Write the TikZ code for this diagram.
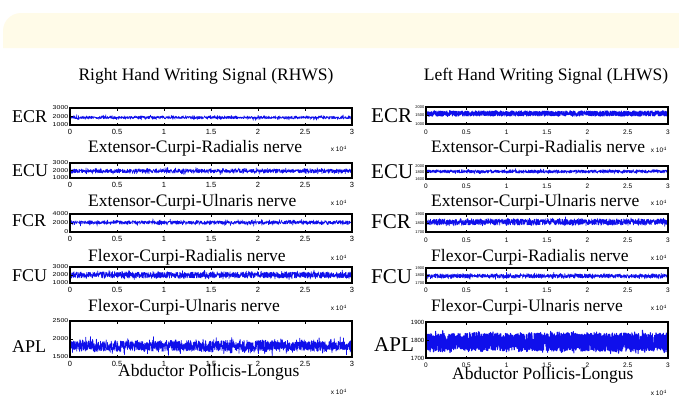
\documentclass[tikz,border=0pt]{standalone}
\usepackage{fontspec}
\setmainfont{Liberation Serif}
\setsansfont{Liberation Sans}
\definecolor{sigblue}{RGB}{15,15,235}
\definecolor{banner}{RGB}{255,251,232}
\newcommand\xaxis[7]{% #1 prefix #2 x0 #3 x1 #4 ytop #5 ybot #6 tick-label style #7 label offset
  \draw[axbox] (#2,#4) rectangle (#3,#5);
  \foreach \k/\lab in {0/0,1/0.5,2/1,3/1.5,4/2,5/2.5,6/3}{%
    \pgfmathsetmacro\xx{#2+(#3-#2)*\k/6}%
    \ifnum\k>0 \ifnum\k<6 \draw[tk] (\xx,#4) -- ++(0,2.5); \draw[tk] (\xx,#5) -- ++(0,-2.5);\fi\fi
    \node[#6] (#1x\k) at (\xx,#5+#7) {\lab};
  }}
\newcommand\ylabs[9]{% #1 prefix #2 x0 #3 ytop #4 ymid #5 ybot #6 #7 #8 labels #9 style
  \draw[tk] (#2,#4) -- ++(2.5,0);
  \node[#9,anchor=east] (#1yt) at (#2-1.5,#3) {#6};
  \node[#9,anchor=east] (#1ym) at (#2-1.5,#4) {#7};
  \node[#9,anchor=east] (#1yb) at (#2-1.5,#5) {#8};}
\newcommand\sig[7][0.6pt]{% [width] x0 x1 centre amp spike samples
  \draw[sig, line width=#1] plot[domain=#2:#3, samples=#7, variable=\t] (\t,{#4+#5*rand+#6*rand*rand*rand});}
\begin{document}
\begin{tikzpicture}[x=1pt,y=-1pt,
  axbox/.style={draw=black, line width=1.1pt},
  tk/.style={draw=black, line width=0.5pt},
  sig/.style={draw=sigblue, line join=round},
  xtl/.style={font=\sffamily\fontsize{7.5}{7.5}\selectfont, inner sep=0},
  xtr/.style={font=\sffamily\fontsize{6.5}{6.5}\selectfont, inner sep=0},
  ytl/.style={font=\sffamily\fontsize{7}{7}\selectfont, inner sep=0, yscale=0.8},
  ytr/.style={font=\sffamily\fontsize{4}{4}\selectfont, inner sep=0},
  ytra/.style={font=\sffamily\fontsize{6}{6}\selectfont, inner sep=0},
  musL/.style={font=\fontsize{18}{18}\selectfont, inner sep=0, anchor=west},
  musR/.style={font=\fontsize{21}{21}\selectfont, inner sep=0, anchor=west},
  ttl/.style={font=\fontsize{17.5}{18}\selectfont, inner sep=0, anchor=west},
  head/.style={font=\fontsize{17.5}{18}\selectfont, inner sep=0},
  mult/.style={font=\sffamily\fontsize{6.5}{6.5}\selectfont, inner sep=0}
]
\useasboundingbox (0,0) rectangle (679,400);
\fill[white] (0,0) rectangle (679,400);
\begin{scope}
\clip (0,0) rectangle (679,400);
\fill[banner, rounded corners=18pt] (3,48) -- (3,13) -- (695,13) -- (695,48) [sharp corners] -- cycle;
\end{scope}
\pgfmathsetseed{7}
% headings
\node[head] (hR) at (206,76) {Right Hand Writing Signal (RHWS)};
\node[head] (hL) at (546,76) {Left Hand Writing Signal (LHWS)};
% ---------- left panel ----------
\sig{70}{352}{117.5}{1.3}{2.5}{1300}
\xaxis{a}{70}{352}{108}{125}{xtl}{7}
\ylabs{a}{70}{108}{116.5}{125}{3000}{2000}{1000}{ytl}
\node[musL] (aL) at (12,117) {ECR};
\node[ttl] (aT) at (88,148) {Extensor-Curpi-Radialis nerve};
\node[mult] (aM) at (339,149) {x 10$^4$};

\sig{70}{352}{171}{2}{3}{1300}
\xaxis{b}{70}{352}{163}{178}{xtl}{7}
\ylabs{b}{70}{163}{170.5}{178}{3000}{2000}{1000}{ytl}
\node[musL] (bL) at (12,171) {ECU};
\node[ttl] (bT) at (88,202) {Extensor-Curpi-Ulnaris nerve};
\node[mult] (bM) at (339,203) {x 10$^4$};

\sig{70}{352}{222.5}{1.6}{3}{1300}
\xaxis{c}{70}{352}{214}{232}{xtl}{7}
\ylabs{c}{70}{214}{223}{232}{4000}{2000}{0}{ytl}
\node[musL] (cL) at (12,221) {FCR};
\node[ttl] (cT) at (88,257) {Flexor-Curpi-Radialis nerve};
\node[mult] (cM) at (339,258) {x 10$^4$};

\sig[0.7pt]{70}{352}{275}{3}{3}{1400}
\xaxis{d}{70}{352}{267}{283}{xtl}{7}
\ylabs{d}{70}{267}{275}{283}{3000}{2000}{1000}{ytl}
\node[musL] (dL) at (12,276) {FCU};
\node[ttl] (dT) at (88,307) {Flexor-Curpi-Ulnaris nerve};
\node[mult] (dM) at (339,308) {x 10$^4$};

\sig[0.75pt]{70}{352}{346}{5}{7}{1700}
\xaxis{e}{70}{352}{321}{357}{xtl}{7}
\ylabs{e}{70}{321}{339}{357}{2500}{2000}{1500}{ytl}
\node[musL] (eL) at (12,347) {APL};
\node[ttl] (eT) at (118,372) {Abductor Pollicis-Longus};
\node[mult] (eM) at (339,392) {x 10$^4$};
% ---------- right panel ----------
\sig[0.9pt]{426}{668}{113.5}{2.6}{1}{1600}
\xaxis{f}{426}{668}{107}{124}{xtr}{8}
\ylabs{f}{426}{107}{115.5}{124}{2000}{1500}{1000}{ytr}
\node[musR] (fL) at (371,116) {ECR};
\node[ttl] (fT) at (431,148) {Extensor-Curpi-Radialis nerve};
\node[mult] (fM) at (659,150) {x 10$^4$};

\sig{426}{668}{171.5}{1.5}{2}{1300}
\xaxis{g}{426}{668}{166}{179}{xtr}{7}
\ylabs{g}{426}{166}{172.5}{179}{2000}{1800}{1600}{ytr}
\node[musR] (gL) at (371,172) {ECU};
\node[ttl] (gT) at (431,202) {Extensor-Curpi-Ulnaris nerve};
\node[mult] (gM) at (659,203) {x 10$^4$};

\sig[0.7pt]{426}{668}{222}{3}{2.5}{1400}
\xaxis{h}{426}{668}{214}{232}{xtr}{8}
\ylabs{h}{426}{214}{223}{232}{1900}{1800}{1700}{ytr}
\node[musR] (hLb) at (371,222) {FCR};
\node[ttl] (hT) at (431,257) {Flexor-Curpi-Radialis nerve};
\node[mult] (hM) at (659,258) {x 10$^4$};

\sig{426}{668}{276}{2}{2.5}{1300}
\xaxis{i}{426}{668}{268}{283}{xtr}{7}
\ylabs{i}{426}{268}{275.5}{283}{1900}{1800}{1700}{ytr}
\node[musR] (iL) at (371,277) {FCU};
\node[ttl] (iT) at (431,307) {Flexor-Curpi-Ulnaris nerve};
\node[mult] (iM) at (659,308) {x 10$^4$};

\sig[1.1pt]{426}{668}{342}{9}{5}{2400}
\xaxis{j}{426}{668}{322}{358}{xtr}{7}
\ylabs{j}{426}{322}{340}{358}{1900}{1800}{1700}{ytra}
\node[musR] (jL) at (374,345) {APL};
\node[ttl] (jT) at (452,375) {Abductor Pollicis-Longus};
\node[mult] (jM) at (659,393) {x 10$^4$};
\end{tikzpicture}
\end{document}
